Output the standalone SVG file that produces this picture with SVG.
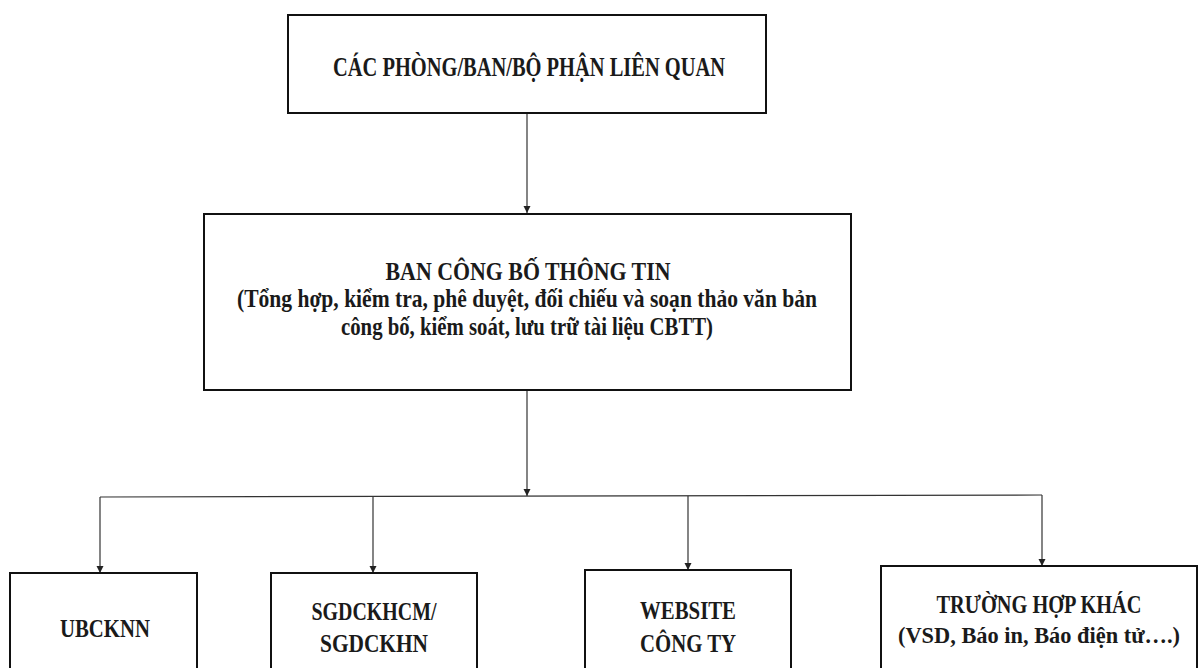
<svg xmlns="http://www.w3.org/2000/svg" width="1198" height="668" viewBox="0 0 1198 668">
  <defs>
    <marker id="arr" viewBox="0 0 10 10" refX="10" refY="5" markerWidth="7" markerHeight="9" markerUnits="userSpaceOnUse" orient="auto">
      <path d="M0,0 L10,5 L0,10 Z" fill="#222"/>
    </marker>
    <style>
      .box { fill: #ffffff; stroke: #111; stroke-width: 2; }
      .t { font-family: 'Liberation Serif', 'DejaVu Serif', serif; font-weight: 700; fill: #1a1a1a; text-anchor: middle; }
      .conn { fill: none; stroke: #333; stroke-width: 1.2; }
      .arrow { marker-end: url(#arr); }
    </style>
  </defs>
  <rect width="1198" height="668" fill="#ffffff"/>

  <g id="connectors">
    <line class="conn arrow" x1="527" y1="113" x2="527" y2="213"/>
    <line class="conn arrow" x1="527" y1="391" x2="527" y2="496"/>
    <polyline class="conn" points="100,497 1042,495"/>
    <line class="conn arrow" x1="100" y1="497" x2="100" y2="573"/>
    <line class="conn arrow" x1="373" y1="497" x2="373" y2="573"/>
    <line class="conn arrow" x1="688" y1="496" x2="688" y2="570"/>
    <line class="conn arrow" x1="1042" y1="495" x2="1042" y2="566"/>
  </g>

  <g id="node-phong-ban">
    <rect class="box" x="288" y="15" width="478" height="98"/>
    <text class="t" x="529" y="76" font-size="27" textLength="392" lengthAdjust="spacingAndGlyphs">CÁC PHÒNG/BAN/BỘ PHẬN LIÊN QUAN</text>
  </g>

  <g id="node-ban-cbtt">
    <rect class="box" x="204" y="214" width="647" height="176"/>
    <text class="t" x="528" y="280" font-size="26" textLength="285" lengthAdjust="spacingAndGlyphs">BAN CÔNG BỐ THÔNG TIN</text>
    <text class="t" x="527" y="307" font-size="26" textLength="580" lengthAdjust="spacingAndGlyphs">(Tổng hợp, kiểm tra, phê duyệt, đối chiếu và soạn thảo văn bản</text>
    <text class="t" x="527" y="335" font-size="26" textLength="372" lengthAdjust="spacingAndGlyphs">công bố, kiểm soát, lưu trữ tài liệu CBTT)</text>
  </g>

  <g id="node-ubcknn">
    <rect class="box" x="10" y="573" width="187" height="130"/>
    <text class="t" x="105" y="637" font-size="26" textLength="90" lengthAdjust="spacingAndGlyphs">UBCKNN</text>
  </g>

  <g id="node-sgdck">
    <rect class="box" x="271" y="573" width="206" height="130"/>
    <text class="t" x="374" y="620" font-size="26" textLength="125" lengthAdjust="spacingAndGlyphs">SGDCKHCM/</text>
    <text class="t" x="374" y="652" font-size="26" textLength="108" lengthAdjust="spacingAndGlyphs">SGDCKHN</text>
  </g>

  <g id="node-website">
    <rect class="box" x="585" y="570" width="206" height="130"/>
    <text class="t" x="688" y="619" font-size="26" textLength="96" lengthAdjust="spacingAndGlyphs">WEBSITE</text>
    <text class="t" x="688" y="652" font-size="26" textLength="96" lengthAdjust="spacingAndGlyphs">CÔNG TY</text>
  </g>

  <g id="node-truong-hop-khac">
    <rect class="box" x="881" y="566" width="316" height="130"/>
    <text class="t" x="1039" y="613" font-size="26" textLength="205" lengthAdjust="spacingAndGlyphs">TRƯỜNG HỢP KHÁC</text>
    <text class="t" x="1039" y="643" font-size="23" textLength="282" lengthAdjust="spacingAndGlyphs">(VSD, Báo in, Báo điện tử….)</text>
  </g>
</svg>
